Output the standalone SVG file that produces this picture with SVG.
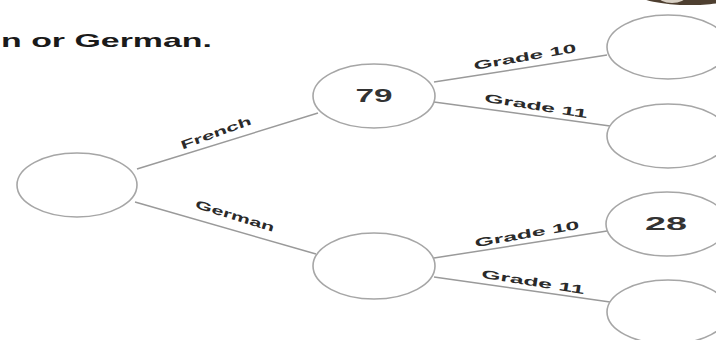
<svg xmlns="http://www.w3.org/2000/svg" width="716" height="340" viewBox="0 0 716 340">
  <style>
    .node { fill: #ffffff; stroke: #a6a6a6; stroke-width: 1.6; }
    .edge { stroke: #9a9a9a; stroke-width: 1.5; fill: none; }
    .lbl { font-family: "Liberation Sans", Arial, sans-serif; font-size: 12px; font-weight: bold; fill: #2a2a2a; text-anchor: middle; dominant-baseline: central; }
    .val { font-family: "Liberation Sans", Arial, sans-serif; font-size: 18px; font-weight: bold; fill: #333333; text-anchor: middle; dominant-baseline: central; }
    .head { font-family: "Liberation Sans", Arial, sans-serif; font-size: 19px; font-weight: bold; fill: #1a1a1a; }
  </style>
  <rect width="716" height="340" fill="#ffffff"/>
  <ellipse cx="690" cy="-6" rx="52" ry="11" fill="#4e3f30"/>
  <ellipse cx="672" cy="-4" rx="14" ry="7" fill="#d8d0c4"/>
  <text class="head" x="1" y="47" textLength="211" lengthAdjust="spacingAndGlyphs">n or German.</text>

  <g id="connectors">
    <line class="edge" x1="137" y1="169" x2="318" y2="113"/>
    <line class="edge" x1="135" y1="202" x2="316" y2="254"/>
    <line class="edge" x1="434" y1="82" x2="607" y2="55"/>
    <line class="edge" x1="434" y1="102" x2="610" y2="126"/>
    <line class="edge" x1="434" y1="258" x2="607" y2="231"/>
    <line class="edge" x1="434" y1="277" x2="610" y2="302"/>
    <text class="lbl" transform="translate(216,133) rotate(-20)" x="0" y="0" textLength="74" lengthAdjust="spacingAndGlyphs">French</text>
    <text class="lbl" transform="translate(235,216) rotate(17)" x="0" y="0" textLength="82" lengthAdjust="spacingAndGlyphs">German</text>
    <text class="lbl" transform="translate(525,57) rotate(-10)" x="0" y="0" textLength="104" lengthAdjust="spacingAndGlyphs">Grade 10</text>
    <text class="lbl" transform="translate(536,106) rotate(9)" x="0" y="0" textLength="104" lengthAdjust="spacingAndGlyphs">Grade 11</text>
    <text class="lbl" transform="translate(527,234) rotate(-10)" x="0" y="0" textLength="106" lengthAdjust="spacingAndGlyphs">Grade 10</text>
    <text class="lbl" transform="translate(533,282) rotate(9)" x="0" y="0" textLength="104" lengthAdjust="spacingAndGlyphs">Grade 11</text>
  </g>

  <g id="root"><ellipse class="node" cx="77" cy="185" rx="60" ry="32"/></g>
  <g id="french"><ellipse class="node" cx="374" cy="96" rx="61" ry="32"/>
    <text class="val" x="374" y="96" textLength="37" lengthAdjust="spacingAndGlyphs">79</text></g>
  <g id="german"><ellipse class="node" cx="374" cy="266" rx="61" ry="33"/></g>
  <g id="french-g10"><ellipse class="node" cx="668" cy="47" rx="61" ry="32"/></g>
  <g id="french-g11"><ellipse class="node" cx="668" cy="136" rx="61" ry="32"/></g>
  <g id="german-g10"><ellipse class="node" cx="667" cy="224" rx="61" ry="32"/>
    <text class="val" x="666" y="224" textLength="42" lengthAdjust="spacingAndGlyphs">28</text></g>
  <g id="german-g11"><ellipse class="node" cx="668" cy="312" rx="61" ry="32"/></g>
</svg>
